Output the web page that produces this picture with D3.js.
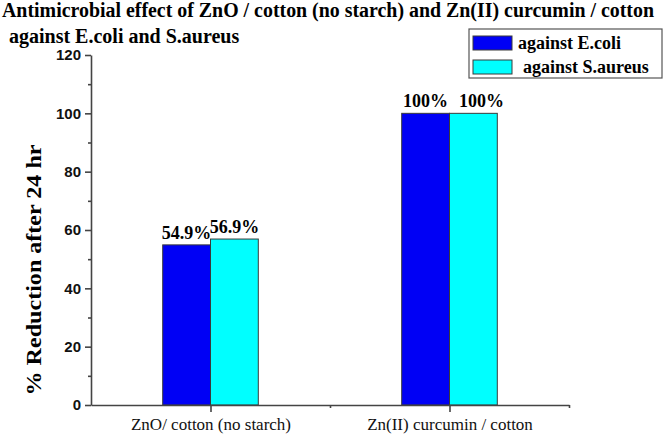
<!DOCTYPE html>
<html><head><meta charset="utf-8">
<script src="https://cdn.jsdelivr.net/npm/d3@7"></script>
<style>body{margin:0;background:#fff}</style>
</head><body>
<svg id="c" width="664" height="435"></svg>
<script>
const categories = ["ZnO/ cotton (no starch)", "Zn(II) curcumin / cotton"];
const seriesNames = ["against E.coli", "against S.aureus"];
const ecoli = [54.9, 100];
const saureus = [56.9, 100];
const ecoliLabels = ["54.9%", "100%"];
const saureusLabels = ["56.9%", "100%"];
const yMajorTicks = [0, 20, 40, 60, 80, 100, 120];
const yMinorTicks = [10, 30, 50, 70, 90, 110];
const titleLines = ["Antimicrobial effect of ZnO / cotton (no starch) and Zn(II) curcumin / cotton", "against E.coli and S.aureus"];
const yTitle = "% Reduction after 24 hr";

const colors = ["#0000f5", "#00ffff"];
const serif = "Liberation Serif, Times New Roman, serif";
const sans = "Liberation Sans, Arial, sans-serif";
const svg = d3.select("#c");

const x = d3.scaleLinear().domain([0.5, 2.5]).range([91, 569]);
const y = d3.scaleLinear().domain([0, 120]).range([405, 55]);
const bw = x(1.2) - x(1);

// bars
const series = [ecoli, saureus];
const labels = [ecoliLabels, saureusLabels];
series.forEach((vals, s) => {
  svg.append("g").selectAll("rect").data(vals).join("rect")
    .attr("x", (d, i) => x(i + 1) - bw + s * bw)
    .attr("y", d => y(d))
    .attr("width", bw)
    .attr("height", d => y(0) - y(d))
    .attr("fill", colors[s])
    .attr("stroke", "#3a3a3a").attr("stroke-width", 1);
  svg.append("g").selectAll("text").data(vals).join("text")
    .attr("x", (d, i) => x(i + 1) - bw / 2 + s * bw + (s === 1 && d === 100 ? 8 : 0))
    .attr("y", d => y(d) - 6)
    .attr("text-anchor", "middle")
    .attr("font-family", serif).attr("font-weight", "bold").attr("font-size", 18)
    .text((d, i) => labels[s][i]);
});

// y axis
const yAxis = svg.append("g").attr("transform", "translate(91,0)")
  .attr("font-family", sans)
  .call(d3.axisLeft(y).tickValues(yMajorTicks).tickSize(6).tickSizeOuter(0).tickPadding(4));
yAxis.attr("font-family", sans).attr("font-size", 15).attr("font-weight", "bold");
yAxis.selectAll("text").attr("fill", "#111");
const yMinor = svg.append("g").attr("transform", "translate(91,0)")
  .call(d3.axisLeft(y).tickValues(yMinorTicks).tickSize(3).tickFormat(""));
yMinor.select(".domain").remove();

// x axis
const xAxis = svg.append("g").attr("transform", "translate(0,405)")
  .call(d3.axisBottom(x).tickValues([1, 2]).tickSize(7).tickSizeOuter(0).tickPadding(6)
    .tickFormat(d => categories[d - 1]));
xAxis.attr("font-family", serif).attr("font-size", 17).attr("font-weight", "normal");
xAxis.selectAll("text").attr("fill", "#111");
const xMinor = svg.append("g").attr("transform", "translate(0,405)")
  .call(d3.axisBottom(x).tickValues([1.5, 2.5]).tickSize(3).tickFormat(""));
xMinor.select(".domain").remove();

svg.selectAll(".domain, .tick line").attr("stroke", "#444").attr("stroke-width", 1.6);

// y title
svg.append("text")
  .attr("transform", "translate(41,270) rotate(-90)")
  .attr("text-anchor", "middle")
  .attr("font-family", serif).attr("font-weight", "bold").attr("font-size", 21)
  .attr("textLength", 251).attr("lengthAdjust", "spacingAndGlyphs")
  .text(yTitle);

// title
svg.append("text").attr("x", 2).attr("y", 17)
  .attr("font-family", serif).attr("font-weight", "bold").attr("font-size", 20)
  .attr("textLength", 652).attr("lengthAdjust", "spacingAndGlyphs")
  .text(titleLines[0]);
svg.append("text").attr("x", 9).attr("y", 43)
  .attr("font-family", serif).attr("font-weight", "bold").attr("font-size", 20)
  .text(titleLines[1]);

// legend
const lg = svg.append("g");
lg.append("rect").attr("x", 469).attr("y", 29).attr("width", 193).attr("height", 49)
  .attr("fill", "#fff").attr("stroke", "#555").attr("stroke-width", 1.2);
seriesNames.forEach((n, i) => {
  const yy = i === 0 ? 36 : 60;
  lg.append("rect").attr("x", 473).attr("y", yy).attr("width", 39).attr("height", 14)
    .attr("fill", colors[i]).attr("stroke", "#3a3a3a").attr("stroke-width", 1);
  lg.append("text").attr("x", i === 0 ? 518 : 523).attr("y", yy + 13)
    .attr("font-family", serif).attr("font-weight", "bold").attr("font-size", 18)
    .text(n);
});
</script>
</body></html>
